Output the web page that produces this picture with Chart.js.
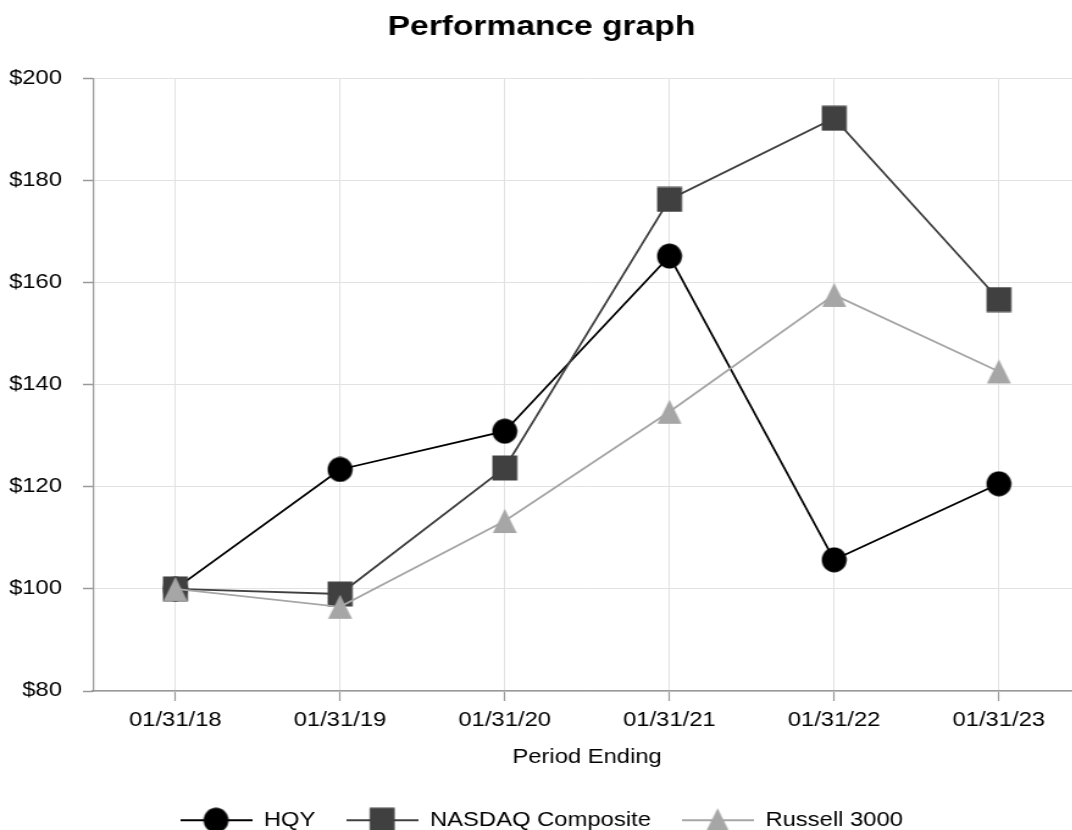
<!DOCTYPE html>
<html>
<head>
<meta charset="utf-8">
<script src="https://cdn.jsdelivr.net/npm/chart.js@4/dist/chart.umd.min.js"></script>
<style>
  html, body { margin: 0; padding: 0; background: #fff; overflow: hidden; }
  #wrap { width: 898px; transform: scaleX(1.22); transform-origin: 0 0; }
  #chart { display: block; }
</style>
</head>
<body>
<div id="wrap"><canvas id="chart" width="898" height="840"></canvas></div>
<script>
// data
const periods = ['01/31/18', '01/31/19', '01/31/20', '01/31/21', '01/31/22', '01/31/23'];
const hqy = [100, 123.4, 130.9, 165.2, 105.7, 120.6];
const nasdaq = [100, 99.0, 123.7, 176.3, 192.2, 156.7];
const russell = [100, 96.5, 113.3, 134.7, 157.6, 142.6];
const yMin = 80, yMax = 200, yStep = 20;

// the original is stretched sideways, so text is wide but markers stay round
const SX = 1.22;

function drawShape(g, kind, cx, cy, color) {
  g.fillStyle = color;
  g.beginPath();
  if (kind === 'circle') {
    g.ellipse(cx, cy, 12.5 / SX, 12.5, 0, 0, Math.PI * 2);
  } else if (kind === 'square') {
    g.rect(cx - 12.5 / SX, cy - 12.5, 25 / SX, 25);
  } else {
    g.moveTo(cx, cy - 12);
    g.lineTo(cx + 12 / SX, cy + 12);
    g.lineTo(cx - 12 / SX, cy + 12);
    g.closePath();
  }
  g.fill();
}

function marker(kind, color) {
  const c = document.createElement('canvas');
  c.width = 22; c.height = 26;
  drawShape(c.getContext('2d'), kind, 11, 13, color);
  return c;
}

function legendMark(kind, color) {
  const c = document.createElement('canvas');
  c.width = 59; c.height = 26;
  const g = c.getContext('2d');
  g.strokeStyle = color;
  g.lineWidth = 2;
  g.beginPath(); g.moveTo(0, 13); g.lineTo(59, 13); g.stroke();
  drawShape(g, kind, 29.5, 13, color);
  return c;
}

const colors = ['#000000', '#404040', '#a6a6a6'];
const kinds = ['circle', 'square', 'triangle'];
const legendImgs = kinds.map((k, i) => legendMark(k, colors[i]));

Chart.defaults.font.family = '"Liberation Sans", Arial, sans-serif';
Chart.defaults.font.size = 19.5;
Chart.defaults.color = '#000';

const ctx = document.getElementById('chart').getContext('2d');
new Chart(ctx, {
  type: 'line',
  data: {
    labels: periods,
    datasets: [
      { label: 'HQY', data: hqy, order: 2 },
      { label: 'NASDAQ Composite', data: nasdaq, order: 1 },
      { label: 'Russell 3000', data: russell, order: 0 }
    ].map((d, i) => Object.assign(d, {
      borderColor: colors[i],
      backgroundColor: colors[i],
      borderWidth: 1.8,
      tension: 0,
      pointStyle: marker(kinds[i], colors[i]),
      pointRadius: 10
    }))
  },
  options: {
    responsive: false,
    animation: false,
    devicePixelRatio: 1,
    events: [],
    layout: { padding: { left: 0, right: 10.3, top: 0, bottom: 0 } },
    plugins: {
      title: {
        display: true,
        text: 'Performance graph',
        font: { size: 27.5, weight: 'bold' },
        color: '#000',
        padding: { top: 10.5, bottom: 35 }
      },
      legend: {
        position: 'bottom',
        labels: {
          usePointStyle: true,
          pointStyleWidth: 59,
          padding: 25.2,
          sort: (a, b) => a.datasetIndex - b.datasetIndex,
          generateLabels: (chart) => {
            const items = Chart.defaults.plugins.legend.labels.generateLabels(chart);
            items.forEach(it => { it.pointStyle = legendImgs[it.datasetIndex]; });
            return items;
          }
        }
      },
      tooltip: { enabled: false }
    },
    scales: {
      x: {
        offset: true,
        grid: { color: '#e2e2e2', lineWidth: 1, tickColor: '#999', tickLength: 10, tickWidth: 1.2 },
        border: { color: '#999', width: 1.5 },
        ticks: { padding: 8 },
        title: { display: true, text: 'Period Ending', padding: { top: 4, bottom: 15.6 } },
        afterFit: (s) => { s.height = s.chart.height - s.chart.legend.height - 691; }
      },
      y: {
        min: yMin,
        max: yMax,
        grid: { color: '#e2e2e2', lineWidth: 1, tickColor: '#999', tickLength: 8.2, tickWidth: 1.5 },
        border: { color: '#999', width: 1.25 },
        ticks: { stepSize: yStep, padding: 17.2, callback: v => '$' + v },
        afterFit: (s) => { s.width = 76.2; }
      }
    }
  }
});
</script>
</body>
</html>
